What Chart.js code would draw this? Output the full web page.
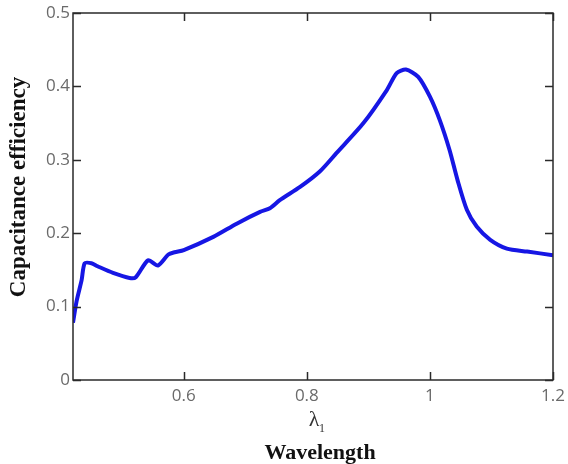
<!DOCTYPE html>
<html>
<head>
<meta charset="utf-8">
<script src="https://cdn.jsdelivr.net/npm/chart.js@4"></script>
<style>
html,body{margin:0;padding:0;background:#fff;}
#wrap{width:568px;height:464px;position:relative;}
</style>
</head>
<body>
<div id="wrap"><canvas id="c" width="568" height="464"></canvas></div>
<script>
// Data
const wavelength = [0.420,0.426,0.434,0.439,0.450,0.460,0.485,0.512,0.522,0.542,0.558,0.575,0.585,0.600,0.648,0.686,0.724,0.740,0.756,0.789,0.821,0.848,0.892,0.930,0.946,0.961,0.981,1.000,1.016,1.032,1.045,1.060,1.076,1.098,1.125,1.158,1.200];
const efficiency = [0.078,0.108,0.136,0.159,0.159,0.155,0.146,0.139,0.140,0.163,0.156,0.171,0.174,0.177,0.195,0.213,0.229,0.234,0.245,0.263,0.284,0.309,0.350,0.395,0.418,0.423,0.413,0.386,0.354,0.313,0.272,0.232,0.209,0.191,0.179,0.175,0.170];
const xTicks = [0.6,0.8,1,1.2];
const yTicks = [0,0.1,0.2,0.3,0.4,0.5];
const xTitle = "Wavelength";
const xSymbol = "λ";
const xSub = "1";
const yTitle = "Capacitance efficiency";

const points = wavelength.map((x,i)=>({x:x,y:efficiency[i]}));

const framePlugin = {
  id:'frame',
  afterDraw(chart){
    const ctx = chart.ctx, a = chart.chartArea;
    const xs = chart.scales.x, ys = chart.scales.y;
    ctx.save();
    ctx.strokeStyle = '#2a2a2a';
    ctx.lineWidth = 1.5;
    ctx.strokeRect(a.left, a.top, a.right-a.left, a.bottom-a.top);
    const L = 8;
    ctx.beginPath();
    xTicks.forEach(v=>{
      const px = Math.round(xs.getPixelForValue(v))+0.5;
      ctx.moveTo(px,a.bottom); ctx.lineTo(px,a.bottom-L);
      ctx.moveTo(px,a.top); ctx.lineTo(px,a.top+L);
    });
    yTicks.forEach(v=>{
      const py = Math.round(ys.getPixelForValue(v))+0.5;
      ctx.moveTo(a.left,py); ctx.lineTo(a.left+L,py);
      ctx.moveTo(a.right,py); ctx.lineTo(a.right-L,py);
    });
    ctx.stroke();
    // titles
    ctx.fillStyle = '#111';
    ctx.textAlign = 'center';
    ctx.textBaseline = 'middle';
    ctx.font = 'bold 22px "Liberation Serif", "Times New Roman", serif';
    ctx.fillText(xTitle, 320, 453);
    ctx.font = '22px "Liberation Serif", "Times New Roman", serif';
    ctx.fillStyle = '#333';
    ctx.fillText(xSymbol, 314, 420);
    ctx.font = '12px "Liberation Serif", "Times New Roman", serif';
    ctx.fillText(xSub, 322, 429);
    ctx.save();
    ctx.translate(19, 187);
    ctx.rotate(-Math.PI/2);
    ctx.fillStyle = '#111';
    ctx.font = 'bold 23px "Liberation Serif", "Times New Roman", serif';
    ctx.fillText(yTitle, 0, 0);
    ctx.restore();
    ctx.restore();
  }
};

new Chart(document.getElementById('c'), {
  type:'line',
  data:{datasets:[{
    data:points,
    borderColor:'rgb(22,22,228)',
    borderWidth:4,
    pointRadius:0,
    fill:false,
    tension:0.25
  }]},
  options:{
    responsive:false,
    animation:false,
    layout:{padding:{top:13,right:15,left:0,bottom:0}},
    plugins:{legend:{display:false},tooltip:{enabled:false}},
    scales:{
      x:{
        type:'linear', min:0.42, max:1.2,
        afterBuildTicks(s){ s.ticks = xTicks.map(v=>({value:v})); },
        afterFit(s){ s.height = 84; s.paddingLeft = 0; s.paddingRight = 0; },
        grid:{display:false, drawTicks:false},
        border:{display:false},
        ticks:{padding:6, color:'#6a6a6a', maxRotation:0, font:{family:'"Open Sans", "Liberation Sans", sans-serif', size:17},
          callback:(v)=>String(Math.round(v*10)/10)}
      },
      y:{
        type:'linear', min:0, max:0.5,
        afterBuildTicks(s){ s.ticks = yTicks.map(v=>({value:v})); },
        afterFit(s){ s.width = 73; s.paddingTop = 0; s.paddingBottom = 0; },
        grid:{display:false, drawTicks:false},
        border:{display:false},
        ticks:{padding:3, color:'#6a6a6a', font:{family:'"Open Sans", "Liberation Sans", sans-serif', size:17},
          callback:(v)=>String(Math.round(v*10)/10)}
      }
    }
  },
  plugins:[framePlugin]
});
</script>
</body>
</html>
